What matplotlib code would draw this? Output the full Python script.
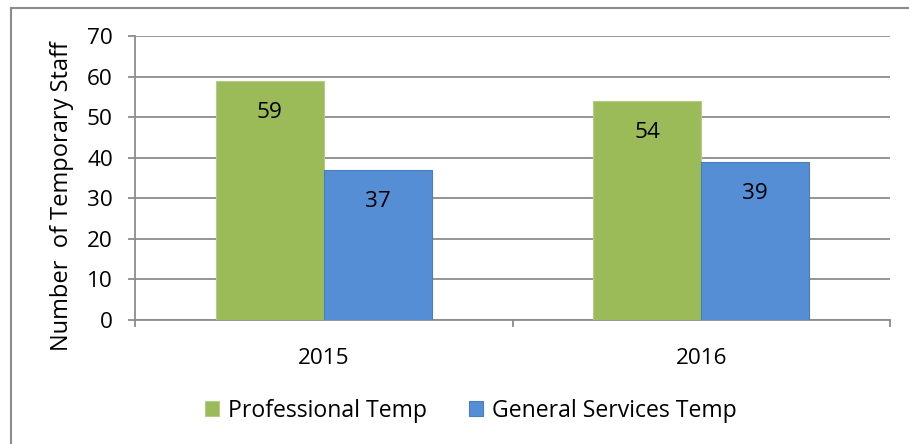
import matplotlib
matplotlib.use("Agg")
import matplotlib.pyplot as plt
from matplotlib.lines import Line2D
import numpy as np

years = ["2015", "2016"]
professional = [59, 54]
general = [37, 39]
series_names = ["Professional Temp", "General Services Temp"]
colors = ["#9BBB59", "#558ED5"]
edge_colors = ["#B5CC88", "#4A7EBB"]

plt.rcParams["font.family"] = ["Open Sans", "DejaVu Sans"]
fs = 16.2

fig = plt.figure(figsize=(9.09, 4.44), dpi=100)
ax = fig.add_axes([135 / 909, 1 - 320 / 444, 755 / 909, 284 / 444])

x = np.arange(len(years))
width = 0.286
for i, vals in enumerate([professional, general]):
    offset = (i - 0.5) * width
    bars = ax.bar(x + offset, vals, width, color=colors[i], edgecolor=edge_colors[i],
                  linewidth=0.8, label=series_names[i], zorder=3)
    for b, v in zip(bars, vals):
        ax.annotate(str(v), (b.get_x() + b.get_width() / 2, v), xytext=(0, -23),
                    textcoords="offset points", ha="center", va="center",
                    fontsize=fs, color="black", zorder=4)

ax.set_xlim(-0.5, 1.5)
ax.set_ylim(0, 70)
ax.set_yticks(range(0, 71, 10))
ax.yaxis.grid(True, color="#8C8C8C", linewidth=1.3, zorder=0)
ax.set_axisbelow(True)

ax.set_xticks([-0.5, 0.5, 1.5])
ax.set_xticklabels([])
ax.set_xticks(x, minor=True)
ax.set_xticklabels(years, minor=True, fontsize=fs)
ax.tick_params(axis="x", which="minor", length=0, pad=20.5)
ax.tick_params(axis="x", which="major", length=5, width=1.3, color="#8C8C8C")
ax.tick_params(axis="y", length=5, width=1.3, color="#8C8C8C", labelsize=fs, pad=11)

for side in ["top", "right"]:
    ax.spines[side].set_visible(False)
for side in ["left", "bottom"]:
    ax.spines[side].set_color("#8C8C8C")
    ax.spines[side].set_linewidth(1.3)

ax.set_ylabel("Number  of Temporary Staff", fontsize=17, va="center")
ax.yaxis.set_label_coords(-73 / 755, 0.435)

fig.legend(loc="center", bbox_to_anchor=(471 / 909, 1 - 411 / 444), ncol=2, frameon=False,
           fontsize=16.6, handlelength=0.62, handleheight=0.62, handletextpad=0.4,
           columnspacing=1.8)

# outer chart border (only top and left visible)
fig.add_artist(Line2D([11 / 909, 11 / 909], [0, 1 - 8 / 444], transform=fig.transFigure,
                      color="#8C8C8C", linewidth=1.5))
fig.add_artist(Line2D([11 / 909, 1], [1 - 8 / 444, 1 - 8 / 444], transform=fig.transFigure,
                      color="#8C8C8C", linewidth=1.5))

fig.savefig("out.png", dpi=100)
